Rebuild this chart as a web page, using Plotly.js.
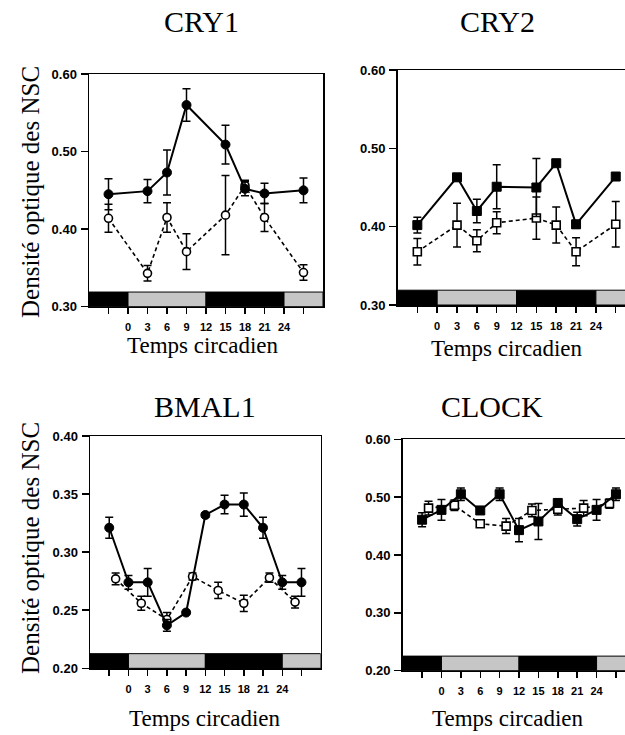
<!DOCTYPE html>
<html>
<head>
<meta charset="utf-8">
<script src="https://cdn.plot.ly/plotly-3.0.1.min.js"></script>
<style>html,body{margin:0;padding:0;background:#fff;overflow:hidden;}#chart{width:625px;height:735px;}</style>
</head>
<body>
<div id="chart"></div>
<script>
// ---------- data ----------
const panelTitles = ["CRY1", "CRY2", "BMAL1", "CLOCK"];
const yAxisLabel = "Densité optique des NSC";
const xAxisLabel = "Temps circadien";

const xTickVals = [-3, 0, 3, 6, 9, 12, 15, 18, 21, 24, 27];
const xTickText = ["", "0", "3", "6", "9", "12", "15", "18", "21", "24", ""];

// light/dark bar (hours)
const barStart = [-6, 0, 12, 24];
const barEnd   = [0, 12, 24, 30];
const barIsDark = [true, false, true, false];

// CRY1
const cry1Hours = [-3, 3, 6, 9, 15, 18, 21, 27];
const cry1Filled = [0.445, 0.449, 0.473, 0.560, 0.509, 0.452, 0.446, 0.450];
const cry1FilledErr = [0.020, 0.015, 0.029, 0.021, 0.025, 0.009, 0.013, 0.016];
const cry1Open = [0.414, 0.343, 0.415, 0.371, 0.418, 0.456, 0.415, 0.344];
const cry1OpenErr = [0.018, 0.010, 0.019, 0.023, 0.051, 0.007, 0.018, 0.010];

// CRY2
const cry2Hours = [-3, 3, 6, 9, 15, 18, 21, 27];
const cry2Filled = [0.402, 0.463, 0.420, 0.451, 0.450, 0.481, 0.403, 0.464];
const cry2FilledErr = [0.010, 0.002, 0.015, 0.028, 0.037, 0.002, 0.005, 0.002];
const cry2Open = [0.368, 0.402, 0.382, 0.405, 0.411, 0.402, 0.368, 0.403];
const cry2OpenErr = [0.017, 0.028, 0.014, 0.014, 0.027, 0.023, 0.018, 0.029];

// BMAL1
const bmalFilledHours = [-3, 0, 3, 6, 9, 12, 15, 18, 21, 24, 27];
const bmalFilled = [0.321, 0.274, 0.274, 0.237, 0.248, 0.332, 0.341, 0.341, 0.321, 0.274, 0.274];
const bmalFilledErr = [0.009, 0.006, 0.012, 0.005, 0.001, 0.002, 0.008, 0.010, 0.009, 0.006, 0.012];
const bmalOpenHours = [-2, 2, 6, 10, 14, 18, 22, 26];
const bmalOpen = [0.277, 0.256, 0.242, 0.279, 0.267, 0.256, 0.278, 0.257];
const bmalOpenErr = [0.005, 0.006, 0.006, 0.003, 0.007, 0.007, 0.004, 0.005];

// CLOCK
const clockFilledHours = [-3, 0, 3, 6, 9, 12, 15, 18, 21, 24, 27];
const clockFilled = [0.461, 0.478, 0.505, 0.477, 0.505, 0.443, 0.458, 0.490, 0.462, 0.478, 0.505];
const clockFilledErr = [0.012, 0.018, 0.011, 0.005, 0.011, 0.020, 0.031, 0.003, 0.012, 0.018, 0.011];
const clockOpenHours = [-2, 2, 6, 10, 14, 18, 22, 26];
const clockOpen = [0.481, 0.486, 0.454, 0.450, 0.477, 0.479, 0.481, 0.489];
const clockOpenErr = [0.012, 0.009, 0.002, 0.013, 0.011, 0.010, 0.013, 0.008];

// y ticks
const yTicksCry = [0.30, 0.40, 0.50, 0.60];
const yTicksBmal = [0.20, 0.25, 0.30, 0.35, 0.40];
const yTicksClock = [0.20, 0.30, 0.40, 0.50, 0.60];

// ---------- layout helpers ----------
const W = 625, H = 735;
const px = v => v / W;
const py = v => 1 - v / H;

function series(xa, ya, x, y, err, filled, symbol) {
  return {
    type: "scatter", mode: "lines+markers", xaxis: xa, yaxis: ya,
    x: x, y: y,
    error_y: {type: "data", array: err, visible: true, color: "#000", thickness: 1.5, width: 4},
    line: filled ? {color: "#000", width: 2} : {color: "#000", width: 1.6, dash: "4px,3px"},
    marker: filled
      ? {symbol: symbol, size: 9, color: "#000", line: {color: "#000", width: 1}}
      : {symbol: symbol, size: 8, color: "#fff", line: {color: "#000", width: 1.6}},
    showlegend: false, cliponaxis: false
  };
}

const traces = [
  series("x", "y", cry1Hours, cry1Open, cry1OpenErr, false, "circle"),
  series("x", "y", cry1Hours, cry1Filled, cry1FilledErr, true, "circle"),
  series("x2", "y2", cry2Hours, cry2Open, cry2OpenErr, false, "square"),
  series("x2", "y2", cry2Hours, cry2Filled, cry2FilledErr, true, "square"),
  series("x3", "y3", bmalOpenHours, bmalOpen, bmalOpenErr, false, "circle"),
  series("x3", "y3", bmalFilledHours, bmalFilled, bmalFilledErr, true, "circle"),
  series("x4", "y4", clockOpenHours, clockOpen, clockOpenErr, false, "square"),
  series("x4", "y4", clockFilledHours, clockFilled, clockFilledErr, true, "square")
];

const tickFontX = {family: "Liberation Sans, Arial, sans-serif", size: 11, color: "#000", weight: "bold"};
const tickFontY = {family: "Liberation Sans, Arial, sans-serif", size: 13, color: "#000", weight: "bold"};

function xAxis(domain, range, anchor, mirror) {
  return {
    domain: domain, range: range, anchor: anchor,
    tickmode: "array", tickvals: xTickVals, ticktext: xTickText,
    ticks: "outside", ticklen: 6, tickwidth: 1.5, tickcolor: "#000",
    showline: true, linecolor: "#000", linewidth: 1.5, mirror: mirror,
    showgrid: false, zeroline: false, tickfont: tickFontX, ticklabelstandoff: 4,
    fixedrange: true
  };
}
function yAxis(domain, range, anchor, ticks, mirror) {
  return {
    domain: domain, range: range, anchor: anchor,
    tickmode: "array", tickvals: ticks, ticktext: ticks.map(v => v.toFixed(2)),
    ticks: "outside", ticklen: 7, tickwidth: 1.5, tickcolor: "#000",
    showline: true, linecolor: "#000", linewidth: 1.5, mirror: mirror,
    showgrid: false, zeroline: false, tickfont: tickFontY, ticklabelstandoff: 1,
    fixedrange: true
  };
}

const shapes = [];
["x", "x2", "x3", "x4"].forEach((xa, i) => {
  const ya = ["y", "y2", "y3", "y4"][i];
  for (let k = 0; k < barStart.length; k++) {
    shapes.push({
      type: "rect", layer: "above", xref: xa, yref: ya + " domain",
      x0: barStart[k], x1: barEnd[k], y0: 0, y1: 0.063,
      fillcolor: barIsDark[k] ? "#000" : "#c6c6c6",
      line: {color: "#000", width: 1}
    });
  }
});

const serif = "Liberation Serif, Times New Roman, serif";
const annotations = [];
function ann(text, xPx, yPx, size, angle) {
  annotations.push({
    text: text, xref: "paper", yref: "paper", x: px(xPx), y: py(yPx),
    xanchor: "center", yanchor: "middle", showarrow: false, textangle: angle || 0,
    font: {family: serif, size: size, color: "#000"}
  });
}
// panel titles
ann(panelTitles[0], 201, 22, 30);
ann(panelTitles[1], 497, 22, 30);
ann(panelTitles[2], 205, 406, 30);
ann(panelTitles[3], 492, 406, 30);
// y-axis labels
ann(yAxisLabel, 30, 192, 25, -90);
ann(yAxisLabel, 30, 548, 25, -90);
// x-axis labels
ann(xAxisLabel, 203, 346, 23);
ann(xAxisLabel, 507, 348, 23);
ann(xAxisLabel, 205, 718, 23);
ann(xAxisLabel, 508, 718, 23);

const layout = {
  width: W, height: H,
  margin: {l: 0, r: 0, t: 0, b: 0, pad: 0},
  paper_bgcolor: "#fff", plot_bgcolor: "#fff",
  showlegend: false,
  xaxis:  xAxis([px(89), px(323)], [-6, 30], "y", true),
  yaxis:  yAxis([py(306.7), py(74)], [0.30, 0.60], "x", yTicksCry, true),
  xaxis2: xAxis([px(397.5), 1], [-6, 28.4], "y2", true),
  yaxis2: yAxis([py(305), py(70)], [0.30, 0.60], "x2", yTicksCry, false),
  xaxis3: xAxis([px(90), px(320.7)], [-6, 30], "y3", true),
  yaxis3: yAxis([py(668.3), py(436)], [0.20, 0.40], "x3", yTicksBmal, true),
  xaxis4: xAxis([px(402.7), 1], [-6, 28.4], "y4", true),
  yaxis4: yAxis([py(670.7), py(439.3)], [0.20, 0.60], "x4", yTicksClock, false),
  shapes: shapes,
  annotations: annotations
};

Plotly.newPlot("chart", traces, layout, {displayModeBar: false, staticPlot: true});
</script>
</body>
</html>
